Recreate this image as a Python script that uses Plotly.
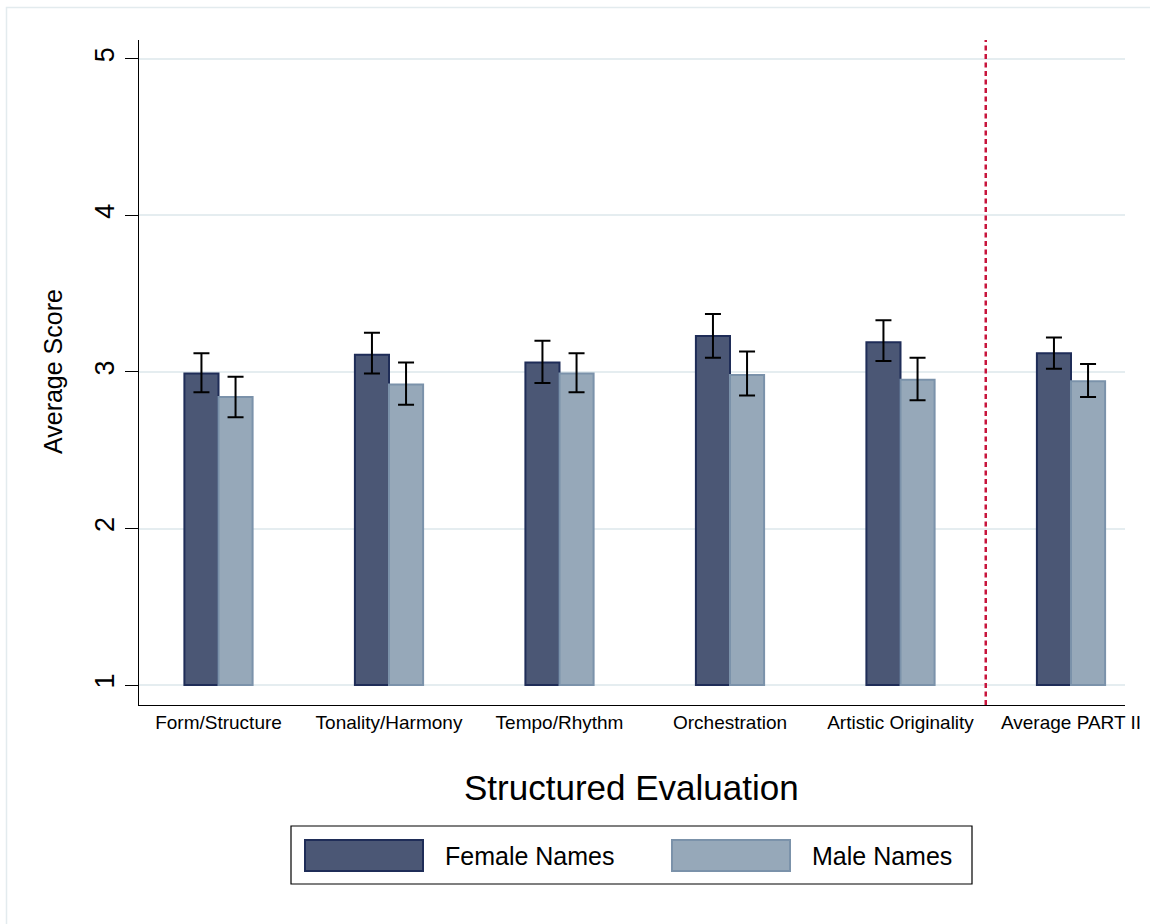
import plotly.graph_objects as go

# Structured evaluation scores (Part II), by name gender of the composer
categories = ["Form/Structure", "Tonality/Harmony", "Tempo/Rhythm",
              "Orchestration", "Artistic Originality", "Average PART II"]

female_mean = [2.99, 3.11, 3.06, 3.23, 3.19, 3.12]
female_ci_low = [2.87, 2.99, 2.93, 3.09, 3.07, 3.02]
female_ci_high = [3.12, 3.25, 3.20, 3.37, 3.33, 3.22]

male_mean = [2.84, 2.92, 2.99, 2.98, 2.95, 2.94]
male_ci_low = [2.71, 2.79, 2.87, 2.85, 2.82, 2.84]
male_ci_high = [2.97, 3.06, 3.12, 3.13, 3.09, 3.05]

y_ticks = [1, 2, 3, 4, 5]
score_floor = 1

FONT = "Liberation Sans, Arial, Helvetica, sans-serif"
FEMALE_FILL, FEMALE_EDGE = "#4b5775", "#1f2d58"
MALE_FILL, MALE_EDGE = "#96a8b9", "#7b92aa"

# plot area in pixels (figure is 1150 x 924)
L, R, T, B = 139, 1125, 40, 705
W, H = 1150, 924


def px(x):
    return (x - L) / (R - L)


def py(y):
    return (B - y) / (B - T)


pos = list(range(len(categories)))
bar_w = 0.2
x_f = [p - bar_w / 2 for p in pos]
x_m = [p + bar_w / 2 for p in pos]

fig = go.Figure()

fig.add_trace(go.Bar(
    x=x_f, y=[m - score_floor for m in female_mean], base=score_floor,
    width=bar_w, name="Female Names", showlegend=False,
    marker=dict(color=FEMALE_FILL, line=dict(color=FEMALE_EDGE, width=2)),
))
fig.add_trace(go.Bar(
    x=x_m, y=[m - score_floor for m in male_mean], base=score_floor,
    width=bar_w, name="Male Names", showlegend=False,
    marker=dict(color=MALE_FILL, line=dict(color=MALE_EDGE, width=2)),
))

# confidence intervals
for xs, mean, lo, hi in [(x_f, female_mean, female_ci_low, female_ci_high),
                         (x_m, male_mean, male_ci_low, male_ci_high)]:
    fig.add_trace(go.Scatter(
        x=xs, y=mean, mode="markers", showlegend=False, hoverinfo="skip",
        marker=dict(size=0.1, color="rgba(0,0,0,0)"),
        error_y=dict(type="data", symmetric=False,
                     array=[h - m for h, m in zip(hi, mean)],
                     arrayminus=[m - l for m, l in zip(mean, lo)],
                     color="black", thickness=2, width=8),
    ))

x_lo = (L - 218.5) / 170.5
x_hi = (R - 218.5) / 170.5

shapes = [
    # outer graph region frame
    dict(type="rect", xref="paper", yref="paper",
         x0=px(6.5), x1=px(1155), y0=py(935), y1=py(7.5),
         line=dict(color="#e3ebee", width=1.5), fillcolor="rgba(0,0,0,0)",
         layer="below"),
    # separator before the overall average
    dict(type="line", xref="x", yref="paper", x0=4.5, x1=4.5, y0=0, y1=1,
         line=dict(color="#c8143c", width=2.5, dash="5px,3.5px")),
    # legend frame and keys
    dict(type="rect", xref="paper", yref="paper",
         x0=px(291), x1=px(972), y0=py(884), y1=py(826),
         line=dict(color="black", width=1.2), fillcolor="white"),
    dict(type="rect", xref="paper", yref="paper",
         x0=px(305), x1=px(423), y0=py(871), y1=py(840),
         line=dict(color=FEMALE_EDGE, width=2), fillcolor=FEMALE_FILL),
    dict(type="rect", xref="paper", yref="paper",
         x0=px(672), x1=px(790), y0=py(871), y1=py(840),
         line=dict(color=MALE_EDGE, width=2), fillcolor=MALE_FILL),
]

annotations = [
    dict(text="Structured Evaluation", xref="paper", yref="paper",
         x=px(631), y=py(787), showarrow=False, xanchor="center", yanchor="middle",
         font=dict(size=35, color="black", family=FONT)),
    dict(text="Average Score", xref="paper", yref="paper",
         x=px(53), y=py(372), showarrow=False, textangle=-90,
         xanchor="center", yanchor="middle",
         font=dict(size=25, color="black", family=FONT)),
    dict(text="Female Names", xref="paper", yref="paper",
         x=px(443), y=py(856), showarrow=False, xanchor="left", yanchor="middle",
         font=dict(size=25, color="black", family=FONT)),
    dict(text="Male Names", xref="paper", yref="paper",
         x=px(810), y=py(856), showarrow=False, xanchor="left", yanchor="middle",
         font=dict(size=25, color="black", family=FONT)),
]

fig.update_layout(
    width=W, height=H,
    margin=dict(l=L, r=W - R, t=T, b=H - B, autoexpand=False),
    paper_bgcolor="white", plot_bgcolor="white",
    barmode="overlay",
    font=dict(family=FONT, color="black"),
    shapes=shapes, annotations=annotations,
    xaxis=dict(
        range=[x_lo, x_hi], tickmode="array", tickvals=pos, ticktext=categories,
        ticks="", showgrid=False, zeroline=False,
        showline=True, linecolor="black", linewidth=1.2,
        tickfont=dict(size=19, color="black", family=FONT),
        fixedrange=True,
    ),
    yaxis=dict(
        range=[0.873, 5.12], tickmode="array", tickvals=y_ticks,
        ticks="outside", ticklen=13, tickwidth=1.2, tickcolor="black",
        tickangle=-90, tickfont=dict(size=27, color="black", family=FONT),
        showgrid=True, gridcolor="#e5edf0", gridwidth=2, zeroline=False,
        showline=True, linecolor="black", linewidth=1.2,
        fixedrange=True,
    ),
)

fig.write_html("out.html")
